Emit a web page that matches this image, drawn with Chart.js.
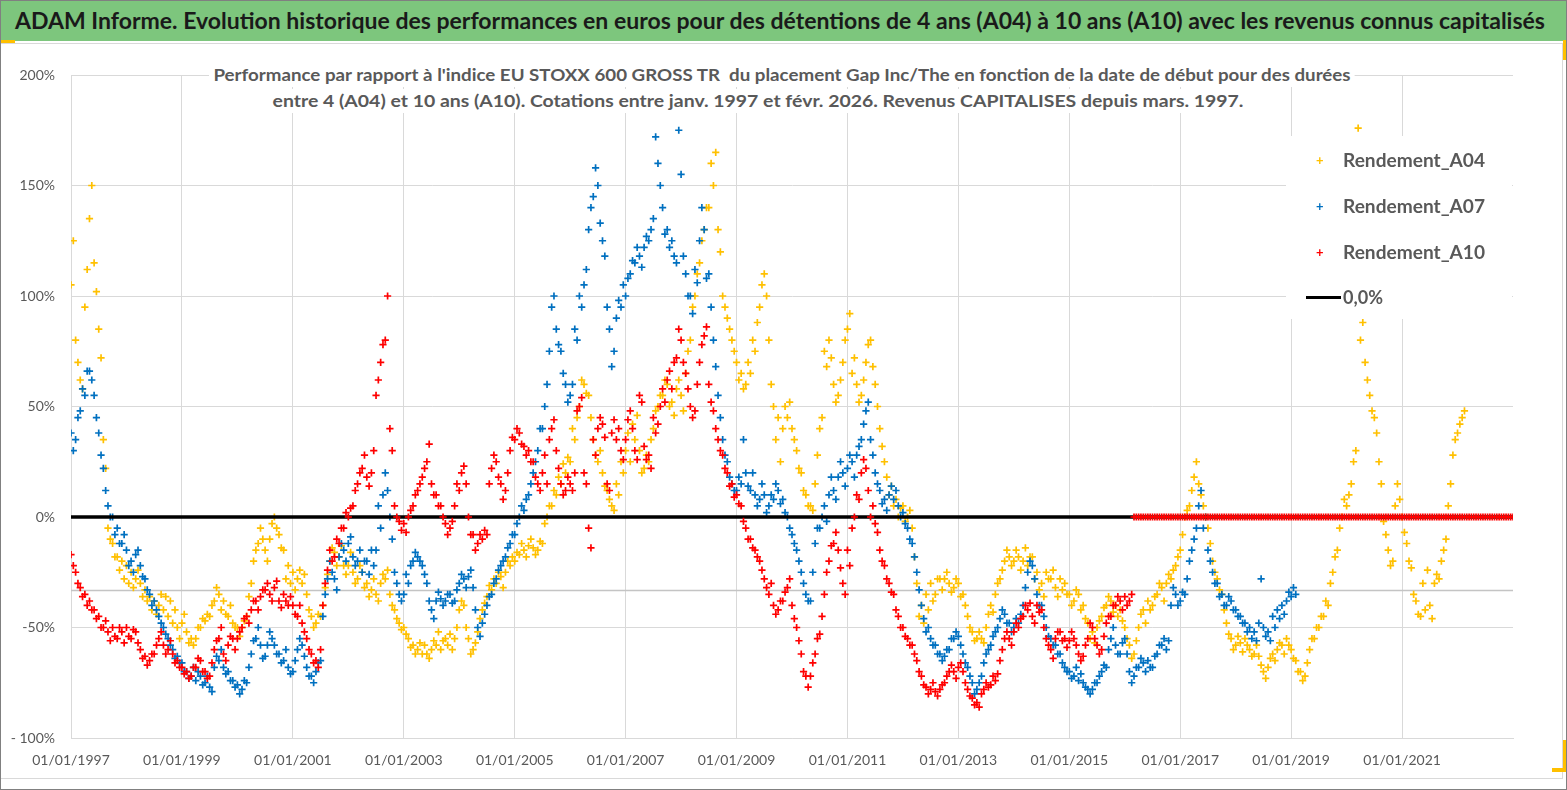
<!DOCTYPE html>
<html lang="fr">
<head>
<meta charset="utf-8">
<title>ADAM Informe - Gap Inc/The</title>
<script src="https://cdn.jsdelivr.net/npm/chart.js@4.4.1/dist/chart.umd.min.js"></script>
<style>
  html, body { margin: 0; padding: 0; background: #fff; }
  body { position: relative; width: 1567px; height: 790px; overflow: hidden; font-family: Lato, "Open Sans", sans-serif; }
  #chartWrap { position: absolute; left: 0; top: 0; width: 1567px; height: 790px; }
  #border { position: absolute; left: 0; top: 0; width: 1567px; height: 790px; box-sizing: border-box; border: 1px solid #808080; pointer-events: none; }
  #innerBorder { position: absolute; left: 0; top: 43px; width: 1563px; height: 736px; box-sizing: border-box; border: 1px solid #d9d9d9; border-left: none; pointer-events: none; }
  #topbar { position: absolute; left: 0; top: 1px; width: 1567px; height: 40px; background: #7dc67d; }
  #title { position: absolute; left: 15px; top: 7px; font-size: 23px; font-weight: 700; color: #1a1a1a; white-space: pre; transform-origin: 0 0; line-height: 26px; }
  .sub { position: absolute; background: #fff; font-size: 17px; font-weight: 700; color: #595959; white-space: pre; line-height: 24px; padding: 0 4px; transform-origin: 0 0; }
  #legend { position: absolute; left: 1286px; top: 136px; width: 226px; height: 183px; background: #fff; }
  .item { position: absolute; left: 0; height: 26px; font-size: 18px; font-weight: 700; color: #595959; white-space: pre; line-height: 26px; }
  .item .mk { position: absolute; left: 30px; top: 0; font-size: 13px; font-weight: 700; }
  .item .tx { position: absolute; left: 57px; top: 0; transform-origin: 0 0; }
  .item .ln { position: absolute; left: 20px; top: 12px; width: 35px; height: 3px; background: #000; }
  .handle { position: absolute; background: #ffc000; }
</style>
</head>
<body>
<div id="chartWrap"><canvas id="perfChart" width="1567" height="790"></canvas></div>
<div id="innerBorder"></div>
<div id="topbar"></div>
<div id="title">ADAM Informe. Evolution historique des performances en euros pour des détentions de 4 ans (A04) à 10 ans (A10) avec les revenus connus capitalisés</div>
<div class="sub" id="sub1" style="left:209px; top:63px;">Performance par rapport à l'indice EU STOXX 600 GROSS TR  du placement Gap Inc/The en fonction de la date de début pour des durées</div>
<div class="sub" id="sub2" style="left:268px; top:89px;">entre 4 (A04) et 10 ans (A10). Cotations entre janv. 1997 et févr. 2026. Revenus CAPITALISES depuis mars. 1997.</div>
<div id="legend">
  <div class="item" style="top:11px;"><span class="mk" style="color:#ffc000">+</span><span class="tx">Rendement_A04</span></div>
  <div class="item" style="top:57px;"><span class="mk" style="color:#0070c0">+</span><span class="tx">Rendement_A07</span></div>
  <div class="item" style="top:103px;"><span class="mk" style="color:#ff0000">+</span><span class="tx">Rendement_A10</span></div>
  <div class="item" style="top:148px;"><span class="ln"></span><span class="tx">0,0%</span></div>
</div>
<div class="handle" style="left:0; top:40px; width:15px; height:3px;"></div>
<div class="handle" style="left:1563px; top:40px; width:4px; height:20px;"></div>
<div class="handle" style="left:1563px; top:740px; width:4px; height:32px;"></div>
<div class="handle" style="left:1552px; top:768px; width:15px; height:4px;"></div>
<div id="border"></div>
<script>
document.addEventListener('DOMContentLoaded', () => {
    // two readings per month (start, mid-month), first one = janv. 1997
    const START_YEAR = 1997;
    const STEPS_PER_YEAR = 24;
    const X_MIN = 1997;
    const X_MAX = 2023;
    const LAST_TICK = 2021;
    const REF_LEVEL = -33.3;

    const a04Values = [
        105, 125, 80, 70, 62, 58, 95, 112, 135, 150, 115, 102, 85, 72, 35, 22, -5, -10, -12, -18, -18, -24, -20, -28,
        -22, -30, -25, -32, -28, -24, -30, -36, -33, -38, -36, -42, -38, -44, -40, -35, -42, -36, -45, -38, -48, -42, -50, -55,
        -48, -44, -52, -57, -55, -58, -55, -50, -50, -46, -47, -44, -45, -40, -38, -32, -35, -42, -38, -44, -45, -40, -48, -50,
        -50, -54, -50, -47, -45, -36, -30, -20, -15, -12, -5, -10, -15, -20, -10, -3, 0, -5, -8, -14, -15, -28, -22, -30,
        -25, -33, -28, -24, -30, -26, -35, -42, -45, -50, -48, -44, -45, -40, -32, -26, -20, -14, -16, -22, -18, -13, -22, -26,
        -22, -16, -25, -30, -28, -22, -25, -32, -30, -36, -33, -28, -35, -38, -30, -26, -28, -24, -35, -40, -42, -46, -48, -51,
        -50, -53, -55, -59, -58, -62, -60, -57, -62, -58, -62, -64, -60, -56, -58, -52, -60, -56, -55, -58, -53, -60, -55, -50,
        -42, -38, -40, -50, -55, -62, -60, -57, -52, -46, -42, -39, -36, -31, -33, -28, -30, -25, -27, -32, -25, -20, -22, -18,
        -20, -16, -17, -12, -15, -18, -13, -10, -14, -17, -15, -11, -12, -3, 0, 5, 5, 12, 10, 18, 15, 24, 20, 27,
        25, 40, 35, 45, 50, 62, 60, 56, 55, 45, 35, 28, 25, 30, 20, 14, 12, 8, 5, 3, 15, 10, 25, 20,
        30, 38, 25, 42, 35, 46, 30, 20, 22, 28, 25, 35, 40, 48, 50, 55, 55, 62, 60, 50, 52, 46, 58, 62,
        55, 48, 65, 75, 80, 95, 100, 110, 115, 125, 130, 140, 140, 160, 150, 165, 130, 120, 100, 95, 90, 85, 80, 75,
        70, 62, 65, 58, 60, 70, 65, 80, 75, 88, 95, 105, 110, 100, 80, 60, 50, 35, 45, 25, 40, 50, 45, 52,
        40, 35, 30, 22, 20, 12, 10, 5, 5, 3, 15, 28, 40, 45, 75, 68, 80, 72, 60, 52, 55, 62, 70, 80,
        85, 92, 65, 72, 60, 52, 55, 62, 70, 78, 80, 68, 60, 50, 40, 32, 25, 18, 10, 14, 5, 8, 0, 4,
        5, -2, 0, 3, -5, -18, -30, -45, -40, -48, -35, -42, -30, -38, -35, -28, -28, -33, -28, -25, -30, -34, -32, -28,
        -30, -36, -35, -40, -45, -50, -52, -56, -55, -52, -55, -57, -50, -44, -40, -43, -35, -30, -28, -24, -20, -15, -18, -22,
        -20, -15, -18, -24, -20, -14, -22, -18, -18, -28, -25, -33, -30, -36, -25, -28, -28, -24, -32, -36, -28, -33, -30, -35,
        -35, -40, -38, -33, -35, -42, -40, -46, -48, -55, -52, -57, -50, -47, -45, -41, -40, -36, -38, -43, -40, -45, -42, -47,
        -50, -55, -58, -64, -62, -56, -50, -44, -42, -48, -38, -42, -40, -36, -35, -30, -32, -38, -30, -26, -28, -24, -22, -18,
        -15, -8, 0, 3, 5, 12, 18, 25, 15, 10, 5, 0, -5, -12, -20, -25, -28, -33, -35, -42, -48, -53, -55, -60,
        -58, -54, -57, -61, -55, -58, -60, -63, -62, -58, -63, -67, -70, -73, -68, -64, -62, -65, -60, -57, -58, -62, -55, -58,
        -60, -64, -65, -70, -70, -74, -72, -66, -60, -55, -55, -50, -50, -45, -45, -38, -40, -30, -25, -18, -15, -5, 0, 8,
        5, 10, 15, 25, 30, 176, 80, 88, 70, 62, 55, 48, 45, 38, 25, 15, -2, -8, -15, -22, -20, 5, 15, 8,
        0, -7, -12, -20, -23, -35, -38, -44, -45, -30, -42, -24, -40, -46, -30, -26, -28, -20, -15, -10, 5, 15, 28, 35,
        38, 42, 45, 48
    ];

    const a07Values = [
        38, 30, 35, 45, 48, 58, 55, 66, 66, 62, 55, 45, 38, 28, 22, 12, 5, 0, 0, -8, -5, -12, -12, -8,
        -15, -22, -20, -25, -17, -15, -22, -27, -28, -33, -35, -40, -38, -42, -45, -48, -50, -53, -55, -58, -60, -64, -63, -66,
        -66, -70, -70, -73, -72, -68, -74, -70, -72, -76, -75, -72, -77, -79, -68, -63, -65, -60, -68, -71, -70, -74, -74, -77,
        -76, -80, -78, -74, -75, -68, -62, -56, -55, -50, -58, -64, -63, -58, -52, -55, -58, -62, -62, -66, -65, -60, -68, -71,
        -70, -65, -60, -55, -58, -63, -68, -72, -72, -75, -70, -66, -65, -45, -35, -28, -20, -25, -28, -33, -18, -12, -15, -20,
        -12, -9, -18, -22, -20, -15, -25, -20, -20, -26, -15, -22, -15, 5, -5, 10, 20, 12, 0, -10, -25, -30, -35, -38,
        -35, -26, -30, -22, -20, -16, -18, -20, -22, -26, -30, -38, -42, -46, -38, -34, -37, -40, -38, -35, -35, -39, -38, -33,
        -30, -26, -28, -32, -27, -24, -32, -42, -50, -54, -48, -44, -40, -36, -35, -30, -28, -24, -22, -20, -18, -14, -12, -8,
        -8, -3, 0, 5, 3, 8, 10, 15, 20, 25, 30, 40, 40, 50, 60, 75, 95, 100, 85, 78, 75, 65, 60, 52,
        55, 60, 85, 80, 100, 95, 105, 112, 130, 140, 145, 158, 150, 133, 125, 118, 95, 85, 68, 75, 90, 98, 95, 105,
        100, 108, 110, 116, 115, 122, 118, 113, 122, 127, 125, 130, 135, 172, 160, 150, 140, 128, 130, 122, 125, 118, 115, 175,
        155, 118, 110, 100, 100, 92, 112, 106, 125, 140, 130, 108, 110, 95, 80, 68, 55, 45, 35, 28, 25, 18, 15, 12,
        12, 18, 15, 35, 20, 14, 12, 20, 10, 5, 8, 15, 10, 2, 5, 10, 8, 15, 12, 6, 8, 2, 0, -5,
        -8, -12, -15, -20, -25, -30, -35, -38, -38, -25, -12, -5, -5, 0, 5, -2, 10, 18, 12, 8, 18, 25, 20, 14,
        22, 28, 25, 18, 28, 32, 35, 42, 48, 52, 35, 28, 20, 15, 12, 6, 8, 3, 10, 14, 8, 12, 5, 0,
        2, -3, -5, -10, -12, -18, -25, -33, -40, -46, -52, -50, -55, -58, -58, -62, -62, -65, -63, -60, -60, -55, -55, -52,
        -54, -58, -62, -66, -68, -72, -75, -80, -78, -75, -72, -66, -62, -60, -58, -54, -52, -50, -46, -42, -44, -48, -48, -52,
        -50, -46, -48, -44, -40, -32, -25, -20, -22, -28, -35, -40, -40, -45, -50, -54, -55, -58, -58, -62, -62, -66, -68, -70,
        -70, -73, -72, -68, -74, -71, -75, -77, -78, -80, -78, -75, -75, -72, -70, -67, -68, -60, -55, -50, -58, -62, -62, -57,
        -55, -62, -70, -75, -72, -68, -68, -64, -66, -70, -65, -68, -68, -63, -62, -58, -58, -55, -60, -56, -40, -32, -35, -40,
        -38, -34, -35, -28, -20, -15, -10, -5, 5, 12, -5, 0, -15, -20, -25, -30, -30, -36, -35, -40, -40, -36, -38, -42,
        -42, -45, -45, -48, -48, -52, -50, -55, -52, -56, -48, -28, -50, -54, -52, -56, -45, -50, -42, -46, -40, -44, -38, -34,
        -36, -32, -35
    ];

    const a10Values = [
        -17, -22, -25, -30, -32, -36, -35, -40, -38, -42, -42, -46, -45, -50, -50, -47, -52, -56, -50, -54, -55, -50, -52, -57,
        -50, -54, -55, -51, -52, -57, -60, -64, -63, -67, -65, -62, -62, -58, -55, -52, -58, -62, -60, -56, -62, -66, -65, -68,
        -68, -71, -70, -73, -72, -68, -68, -64, -65, -70, -70, -73, -72, -66, -60, -56, -55, -50, -62, -65, -58, -54, -55, -60,
        -55, -52, -50, -46, -45, -48, -42, -38, -38, -42, -36, -33, -33, -30, -35, -38, -32, -29, -38, -41, -35, -38, -40, -36,
        -40, -44, -45, -40, -48, -52, -55, -60, -62, -66, -65, -68, -60, -40, -30, -24, -15, -20, -18, -10, -12, -5, -5, 2,
        0, 4, 5, 12, 15, 20, 22, 28, 18, 14, 20, 30, 55, 62, 70, 78, 80, 100, 40, 30, 5, 0, -2, -6,
        -3, -7, 0, 3, 5, 10, 12, 15, 18, 22, 25, 33, 15, 10, 10, 5, 5, 0, -3, -8, -5, -2, 5, 15,
        12, 20, 23, 15, 0, -8, -8, -15, -12, -8, -10, -6, -8, 15, 22, 28, 25, 18, 15, 8, 12, 20, 30, 36,
        35, 40, 38, 33, 32, 28, 30, 25, 25, 18, 15, 12, 20, 28, 15, 35, 40, 44, 30, 22, 15, 10, 12, 18,
        15, 12, 20, 48, 50, 54, 20, 15, -5, -14, 35, 28, 40, 45, 42, 36, 15, 12, 38, 44, 35, 40, 30, 26,
        35, 44, 48, 40, 30, 26, 55, 52, 32, 26, 28, 22, 45, 38, 42, 50, 58, 52, 62, 66, 58, 70, 72, 85,
        80, 70, 65, 58, 50, 45, 48, 60, 70, 78, 82, 86, 60, 52, 48, 40, 35, 30, 28, 22, 20, 14, 15, 9,
        10, 6, 5, -2, -5, -10, -10, -14, -15, -18, -20, -24, -28, -32, -35, -30, -40, -44, -42, -38, -38, -34, -32, -28,
        -40, -46, -50, -56, -62, -70, -72, -77, -72, -66, -62, -55, -53, -45, -35, -25, -20, -13, -12, -7, -15, -23, -30, -35,
        -15, -22, -5, 0, 10, 8, 20, 26, 22, 12, 0, 5, -3, -7, -15, -20, -22, -28, -30, -34, -35, -42, -45, -50,
        -50, -54, -55, -58, -58, -62, -65, -70, -72, -76, -77, -80, -78, -75, -79, -81, -78, -76, -75, -72, -70, -67, -70, -73,
        -68, -66, -70, -75, -78, -81, -82, -85, -84, -86, -80, -78, -75, -77, -76, -72, -74, -71, -65, -60, -55, -52, -55, -58,
        -52, -48, -50, -46, -45, -40, -42, -39, -45, -48, -40, -43, -42, -50, -55, -58, -60, -64, -55, -52, -52, -56, -55, -59,
        -56, -52, -55, -58, -62, -65, -63, -58, -55, -48, -50, -55, -58, -62, -60, -54, -48, -45, -45, -40, -40, -36, -38, -42,
        -36, -40, -38, -35, 0, 0, 0, 0, 0, 0, 0, 0, 0, 0, 0, 0, 0, 0, 0, 0, 0, 0, 0, 0, 0, 0, 0, 0,
        0, 0, 0, 0, 0, 0, 0, 0, 0, 0, 0, 0, 0, 0, 0, 0, 0, 0, 0, 0, 0, 0, 0, 0,
        0, 0, 0, 0, 0, 0, 0, 0, 0, 0, 0, 0, 0, 0, 0, 0, 0, 0, 0, 0, 0, 0, 0, 0,
        0, 0, 0, 0, 0, 0, 0, 0, 0, 0, 0, 0, 0, 0, 0, 0, 0, 0, 0, 0, 0, 0, 0, 0,
        0, 0, 0, 0, 0, 0, 0, 0, 0, 0, 0, 0, 0, 0, 0, 0, 0, 0, 0, 0, 0, 0, 0, 0,
        0, 0, 0, 0, 0, 0, 0, 0, 0, 0, 0, 0, 0, 0, 0, 0, 0, 0, 0, 0, 0, 0, 0, 0,
        0, 0, 0, 0, 0, 0, 0, 0, 0, 0, 0, 0, 0, 0, 0, 0, 0, 0, 0, 0, 0, 0, 0, 0,
        0
    ];

    const toPoints = (values) => values.map((v, i) => ({ x: START_YEAR + i / STEPS_PER_YEAR, y: v }));

    const tickFont = { family: 'Lato, "Open Sans", sans-serif', size: 14 };
    const crossStyle = (color) => ({
        type: 'scatter',
        pointStyle: 'cross',
        pointRadius: 3.6,
        pointHoverRadius: 3.6,
        pointBorderWidth: 1.7,
        borderColor: color,
        backgroundColor: color
    });

    const ctx = document.getElementById('perfChart').getContext('2d');
    new Chart(ctx, {
        type: 'scatter',
        data: {
            datasets: [
                Object.assign({ label: 'Rendement_A10', data: toPoints(a10Values), order: 1 }, crossStyle('#ff0000')),
                {
                    label: '0,0%',
                    type: 'line',
                    data: [{ x: X_MIN, y: 0 }, { x: X_MAX, y: 0 }],
                    borderColor: '#000000',
                    borderWidth: 3.5,
                    pointRadius: 0,
                    order: 2
                },
                Object.assign({ label: 'Rendement_A07', data: toPoints(a07Values), order: 3 }, crossStyle('#0070c0')),
                Object.assign({ label: 'Rendement_A04', data: toPoints(a04Values), order: 4 }, crossStyle('#ffc000')),
                {
                    label: 'ref',
                    type: 'line',
                    data: [{ x: X_MIN, y: REF_LEVEL }, { x: X_MAX, y: REF_LEVEL }],
                    borderColor: '#c4c4c4',
                    borderWidth: 1.5,
                    pointRadius: 0,
                    order: 5
                }
            ]
        },
        options: {
            responsive: false,
            animation: false,
            layout: { padding: { top: 75, right: 54, left: 0, bottom: 0 } },
            plugins: {
                legend: { display: false },
                tooltip: { enabled: false },
                title: { display: false }
            },
            scales: {
                x: {
                    type: 'linear',
                    min: X_MIN,
                    max: X_MAX,
                    ticks: {
                        stepSize: 2,
                        padding: 14,
                        color: '#595959',
                        font: tickFont,
                        maxRotation: 0,
                        autoSkip: false,
                        callback: (v) => '01/01/' + v
                    },
                    afterBuildTicks: (axis) => {
                        axis.ticks = axis.ticks.filter(t => t.value <= LAST_TICK);
                    },
                    afterFit: (axis) => { axis.height = 52; },
                    grid: { color: '#d9d9d9', lineWidth: 1, drawTicks: false },
                    border: { display: true, color: '#d9d9d9' }
                },
                y: {
                    min: -100,
                    max: 200,
                    ticks: {
                        stepSize: 50,
                        padding: 16,
                        color: '#595959',
                        font: tickFont,
                        callback: (v) => v === -100 ? '- 100%' : v + '%'
                    },
                    afterFit: (axis) => { axis.width = 71; },
                    grid: { color: '#d9d9d9', lineWidth: 1, drawTicks: false },
                    border: { display: true, color: '#d9d9d9' }
                }
            }
        }
    });

    // squeeze the html texts to the widths they have in the reference
    const fitWidth = (el, target) => {
        el.style.transform = '';
        const w = el.getBoundingClientRect().width;
        if (w > 0) el.style.transform = 'scaleX(' + (target / w) + ')';
    };
    const fitAll = () => {
        fitWidth(document.getElementById('title'), 1530);
        fitWidth(document.getElementById('sub1'), 1146);
        fitWidth(document.getElementById('sub2'), 980);
        document.querySelectorAll('#legend .tx').forEach((el, i) => {
            fitWidth(el, i === 3 ? 40 : 142);
        });
    };
    fitAll();
    if (document.fonts && document.fonts.ready) document.fonts.ready.then(fitAll);
});
</script>
</body>
</html>
